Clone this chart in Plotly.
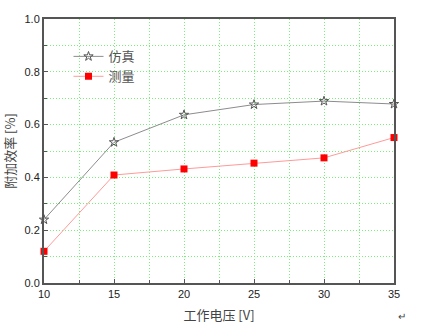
import plotly.graph_objects as go

voltage = [10, 15, 20, 25, 30, 35]
sim_eff = [0.24, 0.533, 0.637, 0.676, 0.689, 0.678]
meas_eff = [0.12, 0.409, 0.432, 0.454, 0.474, 0.551]
series_names = ["仿真", "测量"]
x_title = "工作电压 [V]"
y_title = "附加效率 [%]"

cjk = "Noto Sans CJK SC"

fig = go.Figure()
fig.add_trace(go.Scatter(
    x=voltage, y=sim_eff, name=series_names[0], mode="lines+markers",
    line=dict(color="#8c8c8c", width=1),
    marker=dict(symbol="star-open", size=7, color="#555555", line=dict(width=1, color="#555555")),
    cliponaxis=False,
))
fig.add_trace(go.Scatter(
    x=voltage, y=meas_eff, name=series_names[1], mode="lines+markers",
    line=dict(color="#ff9a9a", width=1),
    marker=dict(symbol="square", size=7, color="#ff0000"),
    cliponaxis=False,
))

gc = "#77f077"
axis_common = dict(
    showline=True, linecolor="#555555", linewidth=2, mirror=True,
    ticks="inside", ticklen=4, tickcolor="#555555", tickwidth=1,
    tickfont=dict(family="Arial, Liberation Sans", size=11, color="#222222"),
    zeroline=False, automargin=False,
    showgrid=True, gridcolor=gc, griddash="1px,2px", gridwidth=1,
    minor=dict(ticks="inside", ticklen=3, tickcolor="#555555", showgrid=True,
               gridcolor=gc, griddash="1px,2px", gridwidth=1),
)
fig.update_xaxes(range=[10, 35], tickvals=[10, 15, 20, 25, 30, 35], minor_dtick=2.5,
                 title=dict(text=x_title, font=dict(family=cjk, size=13, color="#444444"), standoff=12),
                 **axis_common)
fig.update_yaxes(range=[0, 1.0], dtick=0.2, tickformat=".1f", minor_dtick=0.1,
                 title=dict(text=y_title, font=dict(family=cjk, size=13, color="#444444"), standoff=6),
                 **axis_common)

fig.update_layout(
    width=433, height=330,
    margin=dict(l=44, r=39, t=19, b=47),
    paper_bgcolor="white", plot_bgcolor="white",
    showlegend=True,
    legend=dict(x=0.07, y=0.915, xanchor="left", yanchor="top",
                bgcolor="rgba(0,0,0,0)", font=dict(family=cjk, size=13, color="#555555"),
                itemwidth=30, tracegroupgap=0),
    annotations=[dict(text="↵", x=1.04, y=-0.16, xref="paper", yref="paper",
                      showarrow=False, font=dict(size=10, color="#444444"))],
)

fig.write_html("out.html")
